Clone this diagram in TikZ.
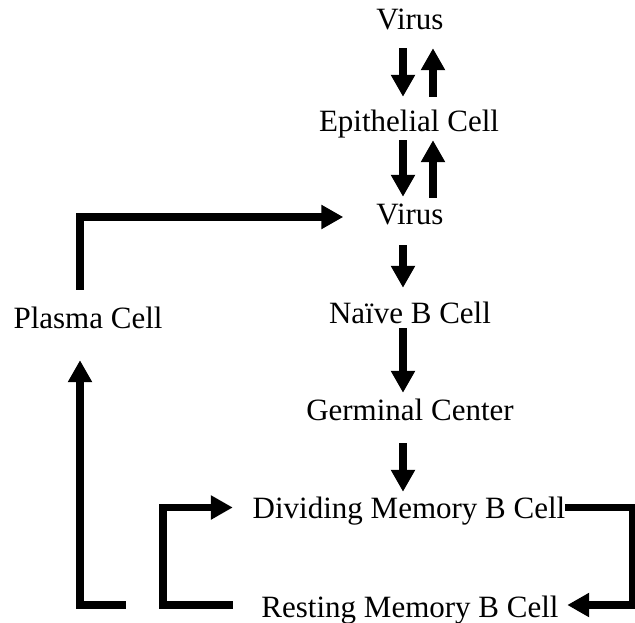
\documentclass[tikz,border=0pt]{standalone}
\usepackage{fontspec}
\setmainfont{Liberation Serif}
\usetikzlibrary{arrows.meta}
\tikzset{
  lbl/.style={font=\fontsize{31}{36}\selectfont, inner sep=0pt, text height=21pt, text depth=0pt, anchor=base},
  arr/.style={line width=7.5pt, line join=miter, -{Triangle[width=23pt,length=22pt]}},
  ln/.style={line width=7.5pt, line join=miter}
}
\begin{document}
\begin{tikzpicture}[x=1pt,y=-1pt]
\useasboundingbox (0,0) rectangle (635,623);
% nodes
\node[lbl] (v1) at (410,30) {Virus};
\node[lbl] (epi) at (409,132) {Epithelial Cell};
\node[lbl] (v2) at (410,225) {Virus};
\node[lbl] (naive) at (410,323) {Naïve B Cell};
\node[lbl] (germ) at (410,420) {Germinal Center};
\node[lbl] (div) at (409,518) {Dividing Memory B Cell};
\node[lbl] (rest) at (410,617) {Resting Memory B Cell};
\node[lbl] (plasma) at (88,328) {Plasma Cell};
% virus <-> epithelial
\draw[arr] ([xshift=-7pt,yshift=-18pt]v1.south) -- ([xshift=-6pt,yshift=14pt]epi.north);
\draw[arr] ([xshift=24pt,yshift=14pt]epi.north) -- ([xshift=23pt,yshift=-18pt]v1.south);
% epithelial <-> virus
\draw[arr] ([xshift=-6pt,yshift=-8pt]epi.south) -- ([xshift=-7pt,yshift=7pt]v2.north);
\draw[arr] ([xshift=23pt,yshift=6pt]v2.north) -- ([xshift=24pt,yshift=-8pt]epi.south);
% chain
\draw[arr] ([xshift=-7pt,yshift=-20pt]v2.south) -- ([xshift=-7pt,yshift=14pt]naive.north);
\draw[arr] ([xshift=-7pt,yshift=-5pt]naive.south) -- ([xshift=-7pt,yshift=6pt]germ.north);
\draw[arr] ([xshift=-7pt,yshift=-23pt]germ.south) -- ([xshift=-6pt,yshift=5pt]div.north);
% plasma -> virus
\draw[arr] ([xshift=-8pt,yshift=17pt]plasma.north) |- ([xshift=-33pt,yshift=-2.5pt]v2.west);
% resting -> plasma
\draw[arr] ([xshift=-135.5pt,yshift=1.5pt]rest.west) -| ([xshift=-8pt,yshift=-32pt]plasma.south);
% resting -> dividing loop
\draw[arr] ([xshift=-28.5pt,yshift=1.5pt]rest.west) -- ++(-70,0) |- ([xshift=-19.7pt]div.west);
% dividing -> resting loop
\draw[arr] (div.east) -- ++(67,0) |- ([xshift=8.5pt,yshift=1.5pt]rest.east);
\end{tikzpicture}
\end{document}
